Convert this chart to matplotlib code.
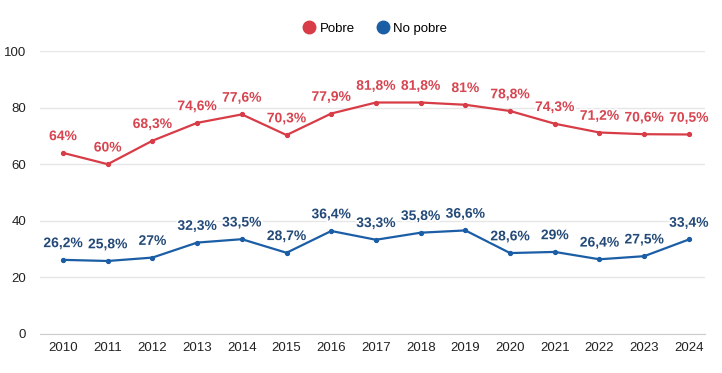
import matplotlib
matplotlib.use("Agg")
import matplotlib.pyplot as plt
import matplotlib.patheffects as pe
from matplotlib.lines import Line2D

years = [2010, 2011, 2012, 2013, 2014, 2015, 2016, 2017, 2018, 2019, 2020, 2021, 2022, 2023, 2024]
pobre = [64, 60, 68.3, 74.6, 77.6, 70.3, 77.9, 81.8, 81.8, 81, 78.8, 74.3, 71.2, 70.6, 70.5]
no_pobre = [26.2, 25.8, 27, 32.3, 33.5, 28.7, 36.4, 33.3, 35.8, 36.6, 28.6, 29, 26.4, 27.5, 33.4]
series_names = ["Pobre", "No pobre"]
yticks = [0, 20, 40, 60, 80, 100]

plt.rcParams['font.family'] = ['Liberation Sans', 'DejaVu Sans']

red_line = '#d83c47'
red_text = '#d64550'
blue_line = '#1b5ea6'
blue_text = '#244a78'

fig = plt.figure(figsize=(7.22, 3.73), dpi=100)
ax = fig.add_axes([40/722, 1 - 334/373, (705-40)/722, (334-51)/373])

def fmt(v):
    s = ('%g' % v).replace('.', ',')
    return s + '%'

for vals, lc, tc in [(pobre, red_line, red_text), (no_pobre, blue_line, blue_text)]:
    ax.plot(years, vals, color=lc, lw=1.6, marker='o', markersize=2.8, zorder=3)
    for x, v in zip(years, vals):
        ax.annotate(fmt(v), (x, v), xytext=(0, 7), textcoords='offset points',
                    ha='center', va='bottom', fontsize=10, fontweight='bold', color=tc,
                    path_effects=[pe.withStroke(linewidth=2.5, foreground='white')], zorder=4)

ax.set_ylim(0, 100)
ax.set_xlim(2009.485, 2024.36)
ax.set_yticks(yticks)
ax.set_xticks(years)
ax.grid(axis='y', color='#e6e6e6', lw=1)
ax.set_axisbelow(True)
for s in ['top', 'right', 'left']:
    ax.spines[s].set_visible(False)
ax.spines['bottom'].set_color('#cccccc')
ax.tick_params(axis='both', length=0, labelsize=9.5, colors='#222222')
ax.tick_params(axis='x', pad=6)
ax.tick_params(axis='y', pad=10)

handles = [Line2D([], [], marker='o', ls='', markersize=9, color=red_line),
           Line2D([], [], marker='o', ls='', markersize=9, color=blue_line)]
fig.legend(handles, series_names, loc='center', bbox_to_anchor=(375/722, 1 - 29/373),
           ncol=2, frameon=False, fontsize=9.5, handlelength=1.0, handletextpad=0.3,
           columnspacing=1.6)

fig.savefig('out.png', dpi=100)
